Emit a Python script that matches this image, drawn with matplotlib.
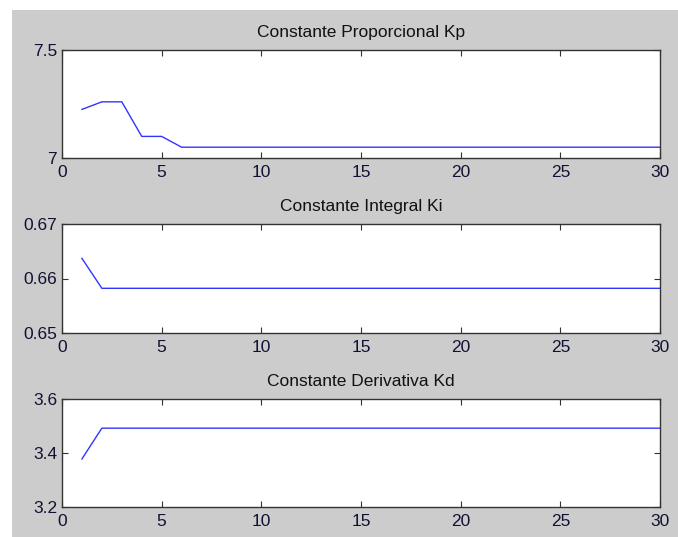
import matplotlib
matplotlib.use("Agg")
import matplotlib.pyplot as plt
from matplotlib.patches import Rectangle
import numpy as np

# PID gains per iteration
iters = np.arange(1, 31)
kp = [7.225, 7.26, 7.26, 7.10, 7.10] + [7.05] * 25
ki = [0.6637] + [0.6582] * 29
kd = [3.378] + [3.492] * 29

titles = ["Constante Proporcional Kp", "Constante Integral Ki", "Constante Derivativa Kd"]
series = [kp, ki, kd]
ylims = [(7, 7.5), (0.65, 0.67), (3.2, 3.6)]
yticks = [[7, 7.5], [0.65, 0.66, 0.67], [3.2, 3.4, 3.6]]
yticklabels = [["7", "7.5"], ["0.65", "0.66", "0.67"], ["3.2", "3.4", "3.6"]]
xticks = [0, 5, 10, 15, 20, 25, 30]

plt.rcParams["font.family"] = ["Liberation Sans", "DejaVu Sans"]

W, H = 678, 537
fig = plt.figure(figsize=(W / 100, H / 100), dpi=100, facecolor="white")
fig.patches.append(Rectangle((12 / W, 0), 1 - 12 / W, 1 - 10 / H,
                             transform=fig.transFigure, facecolor="#cccccc",
                             edgecolor="none", zorder=-10))

# axes boxes in pixels: (top, bottom)
rows = [(50, 158), (224, 333), (399, 507)]
left, right = 62, 660

for (top, bot), y, title, yl, yt, ytl in zip(rows, series, titles, ylims, yticks, yticklabels):
    ax = fig.add_axes([left / W, 1 - bot / H, (right - left) / W, (bot - top) / H])
    ax.plot(iters, y, color="#3333ff", linewidth=1.0)
    ax.set_xlim(0, 30)
    ax.set_ylim(*yl)
    ax.set_xticks(xticks)
    ax.set_yticks(yt)
    ax.set_yticklabels(ytl)
    ax.set_title(title, fontsize=12.5, color="#111111", pad=9)
    ax.tick_params(direction="in", top=True, right=True, length=4,
                   labelsize=12.5, labelcolor="#111133", color="#333333")
    ax.tick_params(axis="x", pad=5)
    for s in ax.spines.values():
        s.set_color("#333333")
        s.set_linewidth(1.0)

fig.savefig("out.png", dpi=100, facecolor=fig.get_facecolor())
